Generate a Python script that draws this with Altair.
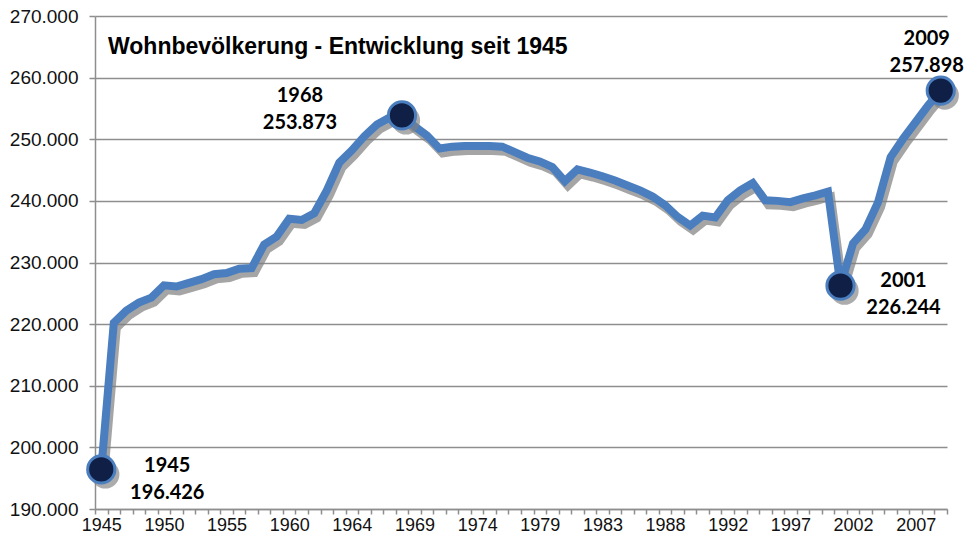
import json
import altair as alt
import pandas as pd

# ---------------- data ----------------
year_labels = [
    "1945", "1946", "1947", "1948", "1949", "1950", "1951", "1952", "1953", "1954",
    "1955", "1956", "1957", "1958", "1959", "1960", "1961", "1961", "1962", "1963",
    "1964", "1965", "1966", "1967", "1968", "1969", "1970", "1971", "1972", "1973",
    "1974", "1975", "1976", "1977", "1978", "1979", "1980", "1981", "1981", "1982",
    "1983", "1984", "1985", "1986", "1987", "1988", "1989", "1990", "1991", "1991",
    "1992", "1993", "1994", "1995", "1996", "1997", "1998", "1999", "2000", "2001",
    "2002", "2003", "2004", "2005", "2006", "2007", "2008", "2009",
]
population = [
    196426, 220200, 222200, 223500, 224300, 226300, 226100, 226700, 227300, 228100,
    228300, 229000, 229100, 232900, 234200, 237100, 236900, 238000, 241700, 246200,
    248200, 250500, 252400, 253500, 253873, 252100, 250600, 248500, 248800, 248900,
    248900, 248900, 248800, 247900, 247000, 246400, 245500, 243200, 245100, 244600,
    244000, 243300, 242500, 241700, 240700, 239300, 237400, 236000, 237600, 237300,
    240100, 241700, 242900, 240100, 240000, 239800, 240400, 240900, 241500, 226244,
    233100, 235400, 239800, 247100, 250100, 252800, 255500, 257898,
]
highlight_idx = [0, 24, 59, 67]
y_ticks = [190000, 200000, 210000, 220000, 230000, 240000, 250000, 260000, 270000]
title_text = "Wohnbevölkerung - Entwicklung seit 1945"


def de(n):
    return f"{n:,}".replace(",", ".")


df = pd.DataFrame({
    "idx": list(range(len(year_labels))),
    "jahr": year_labels,
    "einwohner": population,
})
df["txt"] = df["jahr"] + "\n" + df["einwohner"].map(de)
hl = df[df["idx"].isin(highlight_idx)]

# ---------------- styles ----------------
BLUE = "#4a7ebf"
NAVY = "#0f1f45"
GRID = "#8e8e8e"
SHADOW = "#7f7f7f"
AX_FONT = "Liberation Sans"
ANN_FONT = "Lato"

x_label_expr = (
    "datum.value % 5 === 0 ? " + json.dumps(year_labels) + "[datum.value] : ''"
)

x_enc = alt.X(
    "idx:O",
    scale=alt.Scale(type="band", paddingInner=0, paddingOuter=0),
    bandPosition=0.5,
    axis=alt.Axis(
        title=None, grid=False, labelAngle=0, labelOverlap=False,
        labelExpr=x_label_expr, tickBand="extent", tickSize=5,
        tickColor=GRID, tickWidth=1.5, domainColor=GRID, domainWidth=1.5,
        labelFont=AX_FONT, labelFontSize=18, labelColor="#111111",
        labelPadding=2,
    ),
)
y_enc = alt.Y(
    "einwohner:Q",
    scale=alt.Scale(domain=[190000, 270000], nice=False, zero=False),
    axis=alt.Axis(
        title=None, values=y_ticks, grid=True, gridColor=GRID, gridWidth=1.5,
        labelExpr="replace(format(datum.value, ','), ',', '.')",
        tickSize=6, tickColor=GRID, tickWidth=1.5, domainColor=GRID,
        domainWidth=1.5, labelFont=AX_FONT, labelFontSize=19,
        labelColor="#111111", labelPadding=11,
    ),
)

base = alt.Chart(df)

shadow_line = base.mark_line(
    color=SHADOW, strokeWidth=8, opacity=0.7, xOffset=3, yOffset=5
).encode(x=x_enc, y=y_enc)
main_line = base.mark_line(color=BLUE, strokeWidth=8).encode(x=x_enc, y=y_enc)

pts = alt.Chart(hl)
shadow_pts = pts.mark_circle(
    color=SHADOW, size=800, opacity=0.65, xOffset=4, yOffset=5
).encode(x=x_enc, y=y_enc)
main_pts = pts.mark_point(
    shape="circle", filled=True, fill=NAVY, stroke=BLUE, strokeWidth=3,
    size=740, opacity=1,
).encode(x=x_enc, y=y_enc)

# annotation offsets (dx, dy) relative to each highlighted point
ann_offsets = {0: (66, 3), 24: (-102, -13), 59: (63, 1), 67: (-14, -46)}
ann_layers = []
for i in highlight_idx:
    dx, dy = ann_offsets[i]
    ann_layers.append(
        alt.Chart(hl[hl["idx"] == i]).mark_text(
            font=ANN_FONT, fontSize=20, fontWeight="bold", color="#000000",
            align="center", baseline="alphabetic", lineBreak="\n",
            lineHeight=27, dx=dx, dy=dy,
        ).encode(x=x_enc, y=y_enc, text="txt:N")
    )

title = alt.Chart(pd.DataFrame({"t": [title_text]})).mark_text(
    font=AX_FONT, fontSize=23, fontWeight="bold", color="#000000",
    align="left", baseline="alphabetic",
).encode(x=alt.value(13), y=alt.value(38), text="t:N")

chart = alt.layer(
    shadow_line, main_line, shadow_pts, main_pts, *ann_layers, title
).properties(
    width=852, height=493,
    autosize=alt.AutoSizeParams(type="none"),
    padding={"left": 87, "top": 8, "right": 17, "bottom": 26},
    background="white",
).configure_view(stroke=None)

chart.save("out.html", embed_options={"renderer": "svg", "actions": False})
